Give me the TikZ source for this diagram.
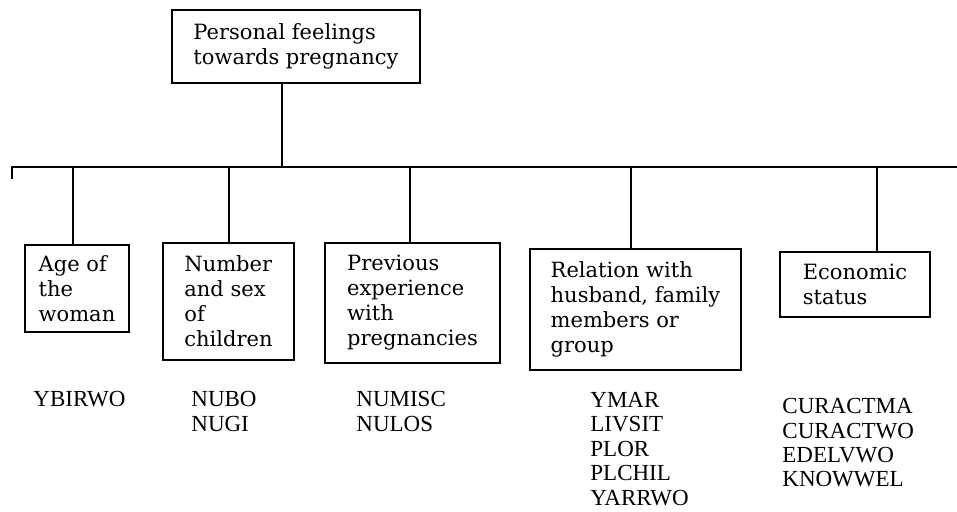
\documentclass[tikz,border=0pt]{standalone}
\usepackage{fontspec}
\setmainfont{DejaVu Serif}
\newfontfamily\varfont{Liberation Serif}

\begin{document}
\begin{tikzpicture}[x=0.5pt,y=-0.5pt,
	factor/.style={draw, line width=1pt, align=left, inner sep=0pt, font=\fontsize{10.5}{12.5}\selectfont},
	varlist/.style={anchor=north west, align=left, inner sep=0pt, font=\varfont\fontsize{11.5}{12.2}\selectfont},
	link/.style={line width=1pt}]
			\useasboundingbox (0,0) rectangle (957,512);
			% top factor
			\node[factor, minimum width=124pt, minimum height=36.5pt] (feel) at (296,46.5) {Personal feelings\\towards pregnancy};
			% sub factors
			\node[factor, minimum width=52pt, minimum height=43.5pt] (age) at (77,288.5) {Age of\\the\\woman};
			\node[factor, minimum width=65.5pt, minimum height=58.5pt] (num) at (228.5,301.5) {Number\\and sex\\of\\children};
			\node[factor, minimum width=87.5pt, minimum height=60pt] (prev) at (412.5,303) {Previous\\experience\\with\\pregnancies};
			\node[factor, minimum width=105.5pt, minimum height=60.5pt] (rel) at (635.5,309.5) {Relation with\\husband, family\\members or\\group};
			\node[factor, minimum width=75pt, minimum height=32.5pt] (eco) at (855,284.5) {Economic\\status};
			% variables
			\node[varlist] (vage) at (33,391) {YBIRWO};
			\node[varlist] (vnum) at (191,391) {NUBO\\NUGI};
			\node[varlist] (vprev) at (356,391) {NUMISC\\NULOS};
			\node[varlist] (vrel) at (590,392) {YMAR\\LIVSIT\\PLOR\\PLCHIL\\YARRWO};
			\node[varlist] (veco) at (782,398) {CURACTMA\\CURACTWO\\EDELVWO\\KNOWWEL};
			% bus line
			\coordinate (tick) at (12,179);
			\coordinate (busL) at (12,167);
			\coordinate (busR) at (957,167);
			\coordinate (drop) at (282,167);
			\coordinate (b1) at (73,167);
			\coordinate (b2) at (229,167);
			\coordinate (b3) at (410,167);
			\coordinate (b4) at (631,167);
			\coordinate (b5) at (877,167);
			\draw[link] (tick) -- (busL) -- (busR);
			\draw[link] (feel.south -| drop) -- (drop);
			\foreach \b/\n in {b1/age,b2/num,b3/prev,b4/rel,b5/eco}
				\draw[link] (\b) -- (\b |- \n.north);
		\end{tikzpicture}
\end{document}
